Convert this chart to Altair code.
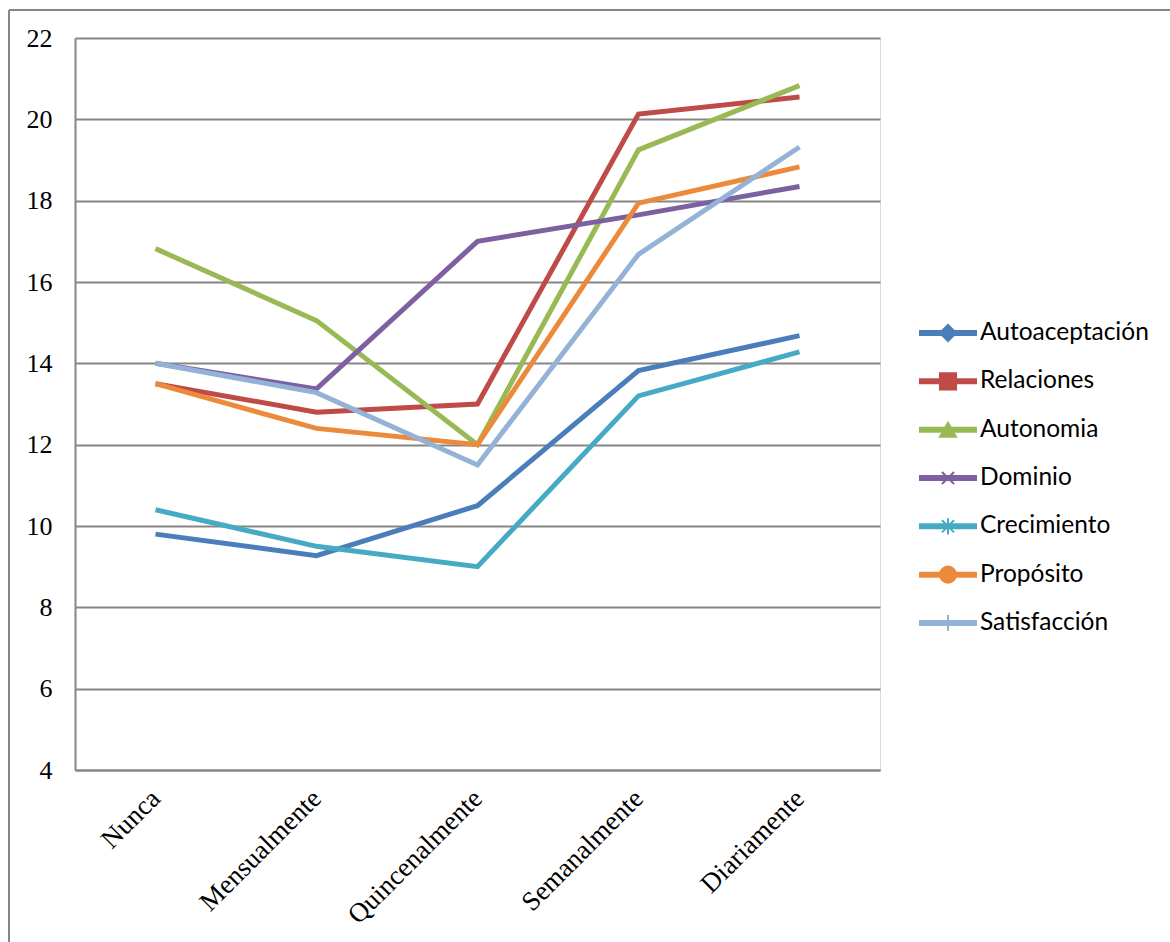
import altair as alt
import pandas as pd

categorias = ["Nunca", "Mensualmente", "Quincenalmente", "Semanalmente", "Diariamente"]
series = ["Autoaceptación", "Relaciones", "Autonomia", "Dominio", "Crecimiento", "Propósito", "Satisfacción"]

autoaceptacion = [9.8, 9.27, 10.5, 13.82, 14.68]
relaciones = [13.5, 12.8, 13.0, 20.13, 20.55]
autonomia = [16.82, 15.05, 12.0, 19.25, 20.83]
dominio = [14.0, 13.37, 17.0, 17.65, 18.35]
crecimiento = [10.4, 9.5, 9.0, 13.2, 14.28]
proposito = [13.5, 12.4, 12.0, 17.94, 18.83]
satisfaccion = [14.0, 13.28, 11.5, 16.68, 19.32]

colores = ["#4A7EBB", "#BE4B48", "#98B954", "#7D60A0", "#46AAC5", "#EC8A3C", "#94B2D6"]
formas = [
    "diamond",
    "square",
    "triangle-up",
    "M-0.75,-0.75L0.75,0.75M-0.75,0.75L0.75,-0.75",
    "M-0.75,-0.75L0.75,0.75M-0.75,0.75L0.75,-0.75M0,-1L0,1",
    "circle",
    "M0,-1L0,1",
]

valores = [autoaceptacion, relaciones, autonomia, dominio, crecimiento, proposito, satisfaccion]
rows = []
for s, vals in zip(series, valores):
    for c, v in zip(categorias, vals):
        rows.append({"serie": s, "categoria": c, "valor": v})
df = pd.DataFrame(rows)
leg = pd.DataFrame({"serie": series})
one = pd.DataFrame({"k": [0]})

color_scale = alt.Scale(domain=series, range=colores)

lines = alt.Chart(df).mark_line(strokeWidth=5).encode(
    x=alt.X("categoria:N", sort=categorias,
            scale=alt.Scale(type="point", domain=categorias, padding=0.5),
            axis=alt.Axis(title=None, labelAngle=-45, ticks=False, grid=False,
                          domainColor="#868686", domainWidth=2,
                          labelFont="Liberation Serif", labelFontSize=27,
                          labelColor="black", labelPadding=24,
                          labelBaseline="middle", labelAlign="right")),
    y=alt.Y("valor:Q", scale=alt.Scale(domain=[4, 22], nice=False, zero=False),
            axis=alt.Axis(title=None, values=list(range(4, 23, 2)), ticks=False,
                          grid=True, gridColor="#868686", gridWidth=2,
                          domainColor="#868686", domainWidth=2,
                          labelFont="Liberation Serif", labelFontSize=26,
                          labelColor="black", labelPadding=23)),
    color=alt.Color("serie:N", scale=color_scale, legend=None),
    detail="serie:N",
)

leg_y = alt.Y("serie:N", scale=alt.Scale(type="point", domain=series, range=[295, 585], padding=0), axis=None)

leg_rule = alt.Chart(leg).mark_rule(strokeWidth=6).encode(
    x=alt.value(844), x2=alt.value(902), y=leg_y,
    color=alt.Color("serie:N", scale=color_scale, legend=None),
)
leg_point = alt.Chart(leg).mark_point(filled=True, size=260, strokeWidth=2, opacity=1).encode(
    x=alt.value(873), y=leg_y,
    fill=alt.Fill("serie:N", scale=color_scale, legend=None),
    stroke=alt.Stroke("serie:N", scale=color_scale, legend=None),
    shape=alt.Shape("serie:N", scale=alt.Scale(domain=series, range=formas), legend=None),
)
leg_text = alt.Chart(leg).mark_text(align="left", baseline="middle", font="Lato", fontSize=24.5, color="black").encode(
    x=alt.value(905), y=leg_y, text="serie:N",
)

frame_left = alt.Chart(one).mark_rule(color="#868686", strokeWidth=2).encode(
    x=alt.value(-66), y=alt.value(-28), y2=alt.value(1000)
)
frame_top = alt.Chart(one).mark_rule(color="#868686", strokeWidth=2).encode(
    x=alt.value(-66), x2=alt.value(1200), y=alt.value(-28)
)

chart = alt.layer(frame_left, frame_top, lines, leg_rule, leg_point, leg_text).resolve_scale(
    y="independent"
).properties(
    width=805, height=732,
    padding={"left": 75, "top": 38, "right": 290, "bottom": 172},
    autosize=alt.AutoSizeParams(type="none"),
).configure_view(stroke=None).configure(background="white")

chart.save("out.html", embed_options={"renderer": "svg", "actions": False})
